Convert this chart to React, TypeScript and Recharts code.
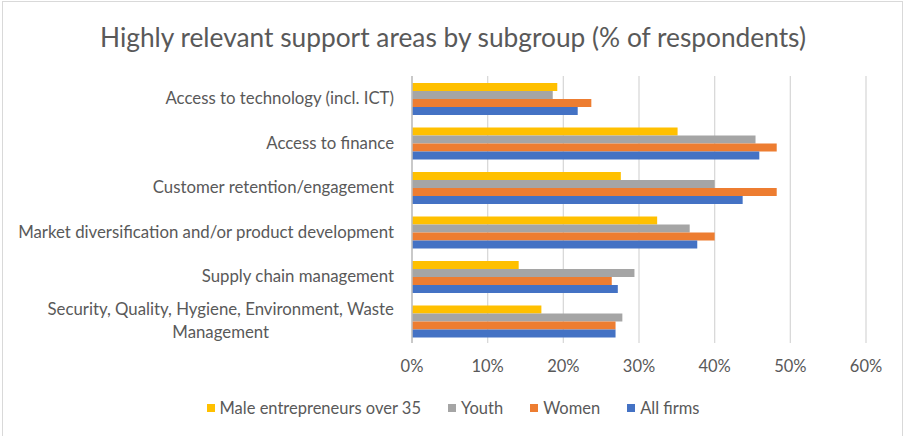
import React from "react";
import { BarChart, Bar, XAxis, YAxis, CartesianGrid, Legend } from "recharts";

const categories = [
  "Access to technology (incl. ICT)",
  "Access to finance",
  "Customer retention/engagement",
  "Market diversification and/or product development",
  "Supply chain management",
  "Security, Quality, Hygiene, Environment, Waste\nManagement",
];
const maleOver35 = [19.2, 35.1, 27.6, 32.4, 14.1, 17.1];
const youth = [18.6, 45.4, 40.0, 36.7, 29.4, 27.8];
const women = [23.7, 48.2, 48.2, 40.0, 26.4, 26.9];
const allFirms = [21.9, 45.9, 43.7, 37.7, 27.2, 26.9];
const xTicks = [0, 10, 20, 30, 40, 50, 60];

const seriesNames = ["Male entrepreneurs over 35", "Youth", "Women", "All firms"];
const seriesKeys = ["male", "youth", "women", "all"];
const seriesColors = ["#FFC000", "#A5A5A5", "#ED7D31", "#4472C4"];

const data = categories.map((c, i) => ({
  category: c,
  male: maleOver35[i],
  youth: youth[i],
  women: women[i],
  all: allFirms[i],
}));

const FONT = "Lato, 'Open Sans', sans-serif";
const TEXT = "#595959";
const TICK_FS = 16.8;

function measure(text: string, size: number): number {
  const c = document.createElement("canvas").getContext("2d");
  if (!c) return text.length * size * 0.5;
  c.font = `${size}px Lato`;
  return c.measureText(text).width;
}

const CategoryTick = (props: any) => {
  const { x, y, payload } = props;
  const lines = String(payload.value).split("\n");
  if (lines.length === 1) {
    return (
      <text x={x} y={y} dy="0.35em" textAnchor="end" fill={TEXT} fontSize={TICK_FS} fontFamily={FONT}>
        {lines[0]}
      </text>
    );
  }
  const w = measure(lines[0], TICK_FS);
  const lh = 22.5;
  const startY = y - ((lines.length - 1) * lh) / 2;
  return (
    <g>
      {lines.map((ln, i) => (
        <text
          key={i}
          x={x - w / 2}
          y={startY + i * lh}
          dy="0.35em"
          textAnchor="middle"
          fill={TEXT}
          fontSize={TICK_FS}
          fontFamily={FONT}
        >
          {ln}
        </text>
      ))}
    </g>
  );
};

const LegendContent = () => (
  <div
    style={{
      display: "flex",
      justifyContent: "center",
      gap: 27,
      fontFamily: FONT,
      fontSize: 16.5,
      color: TEXT,
      lineHeight: "20px",
    }}
  >
    {seriesNames.map((n, i) => (
      <div key={n} style={{ display: "flex", alignItems: "center" }}>
        <span style={{ width: 8, height: 8, background: seriesColors[i], display: "inline-block", marginRight: 5 }} />
        <span>{n}</span>
      </div>
    ))}
  </div>
);

export default function App() {
  return (
    <div style={{ position: "absolute", left: 0, top: 0, width: 906, height: 436, background: "#fff" }}>
      <div
        style={{
          position: "absolute",
          left: 2,
          top: 1,
          width: 901,
          height: 440,
          border: "1.5px solid #d9d9d9",
          boxSizing: "border-box",
        }}
      />
      <div
        style={{
          position: "absolute",
          left: 0,
          top: 21,
          width: 906,
          textAlign: "center",
          fontFamily: FONT,
          fontSize: 26.3,
          color: TEXT,
          lineHeight: "32px",
        }}
      >
        Highly relevant support areas by subgroup (% of respondents)
      </div>
      <BarChart
        width={906}
        height={436}
        data={data}
        layout="vertical"
        margin={{ top: 76, right: 40, left: 0, bottom: 43 }}
        barCategoryGap="15.5%"
        barGap={0}
      >
        <CartesianGrid horizontal={false} stroke="#d9d9d9" strokeWidth={1.3} />
        <XAxis
          type="number"
          domain={[0, 60]}
          ticks={xTicks}
          tickFormatter={(v: number) => `${v}%`}
          axisLine={false}
          tickLine={false}
          tickMargin={11}
          height={30}
          tick={{ fill: TEXT, fontSize: 16.5, fontFamily: FONT }}
        />
        <YAxis
          type="category"
          dataKey="category"
          width={412}
          axisLine={{ stroke: "#bfbfbf", strokeWidth: 1.5 }}
          tickLine={false}
          tickMargin={12}
          tick={<CategoryTick />}
          interval={0}
        />
        <Legend
          content={<LegendContent />}
          wrapperStyle={{ position: "absolute", top: 398, left: 0, width: 906 }}
        />
        {seriesKeys.map((k, i) => (
          <Bar key={k} dataKey={k} name={seriesNames[i]} fill={seriesColors[i]} isAnimationActive={false} />
        ))}
      </BarChart>
    </div>
  );
}
